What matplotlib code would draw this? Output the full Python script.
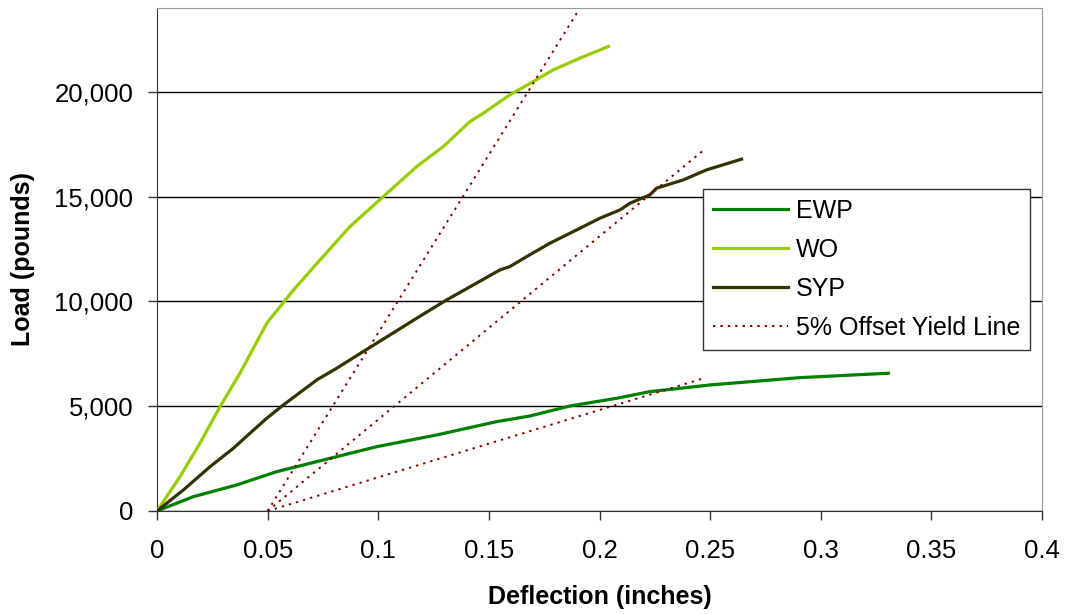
# -*- coding: utf-8 -*-

'''
Carga x deflexao - EWP, WO, SYP com linhas de 5% offset
'''

import matplotlib
matplotlib.use('Agg')
import matplotlib.pyplot as plt
from matplotlib.ticker import FuncFormatter

plt.rcParams['font.family'] = ['Liberation Sans', 'DejaVu Sans']

# curvas (deflexao em polegadas, carga em libras)
EWP_X = [0, 0.0164, 0.036, 0.0541, 0.0631, 0.0752, 0.0993, 0.1264, 0.1535,
         0.1686, 0.1867, 0.2078, 0.2228, 0.2499, 0.2906, 0.3305]
EWP_Y = [0, 683, 1241, 1876, 2115, 2434, 3069, 3628, 4263,
         4535, 5012, 5379, 5695, 6014, 6363, 6573]

WO_X = [0, 0.0104, 0.0194, 0.0285, 0.0375, 0.0496, 0.0617, 0.0737, 0.0872,
        0.1023, 0.1174, 0.1294, 0.1415, 0.1475, 0.1595, 0.1701, 0.1791,
        0.1912, 0.204]
WO_Y = [0, 1637, 3231, 4980, 6573, 8960, 10549, 11981, 13571,
        15003, 16435, 17390, 18583, 18980, 19857, 20493, 21050,
        21609, 22163]

SYP_X = [0, 0.0119, 0.024, 0.0345, 0.042, 0.0496, 0.0571, 0.0722, 0.0812,
         0.0932, 0.1053, 0.1174, 0.1309, 0.143, 0.155, 0.1595, 0.1671,
         0.1776, 0.1897, 0.2002, 0.2093, 0.2138, 0.2228, 0.2258, 0.2379,
         0.2484, 0.2642]
SYP_Y = [0, 1002, 2116, 2992, 3709, 4425, 5060, 6253, 6811,
         7604, 8401, 9198, 10072, 10788, 11503, 11662, 12139,
         12778, 13413, 13971, 14368, 14687, 15084, 15403, 15800,
         16277, 16788]

# linhas de escoamento (5% offset)
OFF_WO_X = [0.05, 0.19]
OFF_WO_Y = [0, 23800]
OFF_SYP_X = [0.05, 0.248]
OFF_SYP_Y = [0, 17300]
OFF_EWP_X = [0.05, 0.247]
OFF_EWP_Y = [0, 6330]

COR_EWP = '#008000'
COR_WO = '#99CC00'
COR_SYP = '#333300'
COR_OFF = '#800000'


def plota():
    '''Plota grafico'''
    fig = plt.figure(figsize=(10.65, 6.14), dpi=100)
    ax = fig.add_axes([157 / 1065, 1 - 511 / 614, 885 / 1065, 503 / 614])

    ax.plot(EWP_X, EWP_Y, color=COR_EWP, lw=2.3, label='EWP', zorder=3)
    ax.plot(WO_X, WO_Y, color=COR_WO, lw=2.3, label='WO', zorder=3)
    ax.plot(SYP_X, SYP_Y, color=COR_SYP, lw=2.3, label='SYP', zorder=3)
    estilo = dict(color=COR_OFF, lw=1.4, ls=(0, (1.2, 2.6)), zorder=4)
    ax.plot(OFF_WO_X, OFF_WO_Y, label='5% Offset Yield Line', **estilo)
    ax.plot(OFF_SYP_X, OFF_SYP_Y, **estilo)
    ax.plot(OFF_EWP_X, OFF_EWP_Y, **estilo)

    ax.set_xlim(0, 0.4)
    ax.set_ylim(0, 24000)
    ax.set_xticks([i * 0.05 for i in range(9)])
    ax.set_yticks([0, 5000, 10000, 15000, 20000])
    ax.xaxis.set_major_formatter(FuncFormatter(lambda v, p: '%g' % round(v, 2)))
    ax.yaxis.set_major_formatter(FuncFormatter(lambda v, p: '{:,.0f}'.format(v)))
    ax.tick_params(labelsize=18.5, length=6.5, width=1, direction='out',
                   colors='#333333', labelcolor='black')
    ax.tick_params(axis='x', pad=13.5)
    ax.tick_params(axis='y', pad=10.5)
    ax.yaxis.grid(True, color='black', lw=1)
    ax.set_axisbelow(True)
    for lado in ['left', 'bottom']:
        ax.spines[lado].set_color('#333333')
    for lado in ['top', 'right']:
        ax.spines[lado].set_color('#999999')

    ax.set_xlabel('Deflection (inches)', fontsize=18, fontweight='bold', labelpad=16)
    ax.set_ylabel('Load (pounds)', fontsize=18, fontweight='bold', labelpad=14)

    leg = ax.legend(loc='upper left', bbox_to_anchor=(546 / 885, (511 - 189) / 503),
                    fontsize=18, frameon=True, fancybox=False, handlelength=3.0,
                    handletextpad=0.3, borderpad=0.4, labelspacing=0.6,
                    borderaxespad=0)
    leg.get_frame().set_edgecolor('#333333')
    leg.get_frame().set_linewidth(1)
    leg.get_frame().set_alpha(1)

    fig.savefig('out.png', dpi=100)


if __name__ == '__main__':
    plota()
